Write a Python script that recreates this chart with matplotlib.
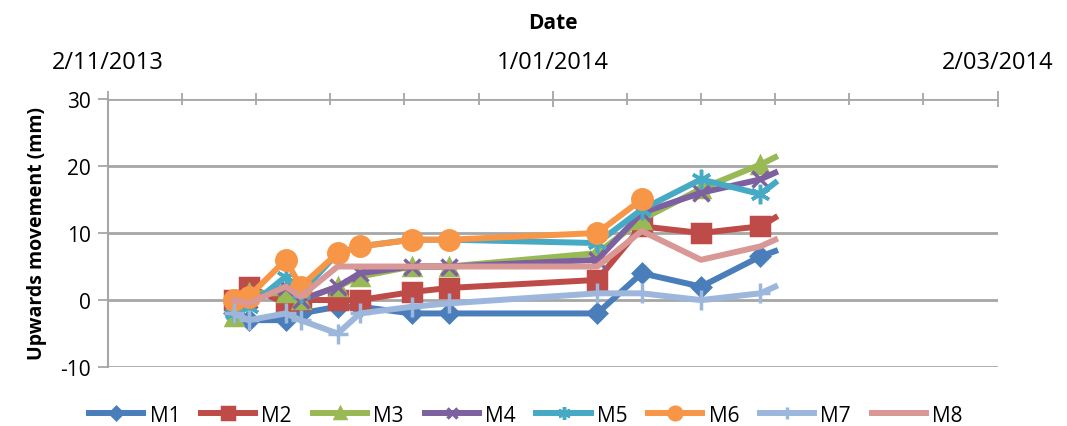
import pandas as pd
import matplotlib.pyplot as plt
import matplotlib.dates as mdates

# measurement dates
dates = pd.to_datetime(['2013-11-19', '2013-11-21', '2013-11-26', '2013-11-28',
                        '2013-12-03', '2013-12-06', '2013-12-13', '2013-12-18',
                        '2014-01-07', '2014-01-13', '2014-01-21', '2014-01-29',
                        '2014-01-31'])

# upward movement (mm) per marker
m1 = [-2, -3, -3, -2, -1, -1, -2, -2, -2, 4, 2, 6.5, 7.3]
m2 = [0, 2, -0.5, 0, 0, 0, 1.2, 1.8, 3, 11, 10, 11, 12.3]
m3 = [-2.5, 1, 1, 0, 2, 3.5, 5, 5, 7, 12, 16.6, 20.2, 21.3]
m4 = [-1, 0, 2, 0, 2, 4, 5, 5, 6, 13, 16, 18, 19]
m5 = [-2, -1, 3.5, 1, 7, 8, 9, 9, 8.5, 13.5, 18, 15.8, 17.5]
m6 = [0, 0.5, 6, 2, 7, 8, 9, 9, 10, 15, None, None, None]
m7 = [-2, -3, -2, -3, -5, -2, -1, -0.5, 1, 1, 0, 1, 2]
m8 = [0, -0.5, 2, 0.5, 5, 5, 5, 5, 5, 10.3, 6, 8, 9]

series = {'M1': m1, 'M2': m2, 'M3': m3, 'M4': m4,
          'M5': m5, 'M6': m6, 'M7': m7, 'M8': m8}
colors = {'M1': '#4a7ebb', 'M2': '#be4b48', 'M3': '#98b954', 'M4': '#7d60a0',
          'M5': '#46aac5', 'M6': '#f79646', 'M7': '#9db7dc', 'M8': '#d99795'}
markers = {'M1': ('D', 9), 'M2': ('s', 13), 'M3': ('^', 11), 'M4': ('x', 11),
           'M5': ((6, 2, 0), 14), 'M6': ('o', 14), 'M7': ('+', 14), 'M8': ('', 0)}

plt.rcParams['font.family'] = ['Open Sans', 'DejaVu Sans']
plt.rcParams['axes.unicode_minus'] = False

fig = plt.figure(figsize=(10.67, 4.27), dpi=100)
ax = fig.add_axes([0.101, 0.138, 0.834, 0.628])

# gridlines
for yv in [-10, 0, 10, 20, 30]:
    ax.axhline(yv, color='#a6a6a6', lw=2, zorder=0)

for name, vals in series.items():
    mk, ms = markers[name]
    s = pd.Series(vals, index=dates, dtype=float).dropna()
    ax.plot(s.index, s.values, color=colors[name], lw=4.3, marker=mk, ms=ms,
            mew=2.5, markevery=list(range(min(len(s), 12))), label=name,
            solid_joinstyle='round')

ax.set_xlim(pd.Timestamp('2013-11-02'), pd.Timestamp('2014-03-02'))
ax.set_ylim(-10, 30)
ax.set_yticks([-10, 0, 10, 20, 30])

ax.xaxis.tick_top()
ax.xaxis.set_label_position('top')
ax.set_xticks(pd.to_datetime(['2013-11-02', '2014-01-01', '2014-03-02']))
ax.xaxis.set_major_formatter(mdates.DateFormatter('%-d/%m/%Y'))
minor = pd.date_range('2013-11-02', '2014-03-02', freq='10D')
ax.set_xticks(minor, minor=True)
ax.set_xlabel('Date', fontsize=15, fontweight='bold', labelpad=16)
ax.set_ylabel('Upwards movement (mm)', fontsize=14, fontweight='bold', labelpad=10)

ax.tick_params(axis='x', which='major', direction='inout', length=12, width=1.3,
               color='#a6a6a6', labelsize=17, pad=12)
ax.tick_params(axis='x', which='minor', direction='inout', length=9, width=1.3,
               color='#a6a6a6')
ax.tick_params(axis='y', direction='out', length=7, width=1.3, color='#a6a6a6',
               labelsize=15, pad=5)

for side in ['bottom', 'right', 'top']:
    ax.spines[side].set_visible(False)
ax.spines['left'].set_color('#a6a6a6')
ax.spines['left'].set_linewidth(1.5)

ax.legend(loc='upper center', bbox_to_anchor=(0.47, -0.07), ncol=8, frameon=False,
          fontsize=15, handlelength=2.6, columnspacing=1.0, handletextpad=0.3,
          markerscale=0.65)

plt.savefig('out.png', dpi=100)
